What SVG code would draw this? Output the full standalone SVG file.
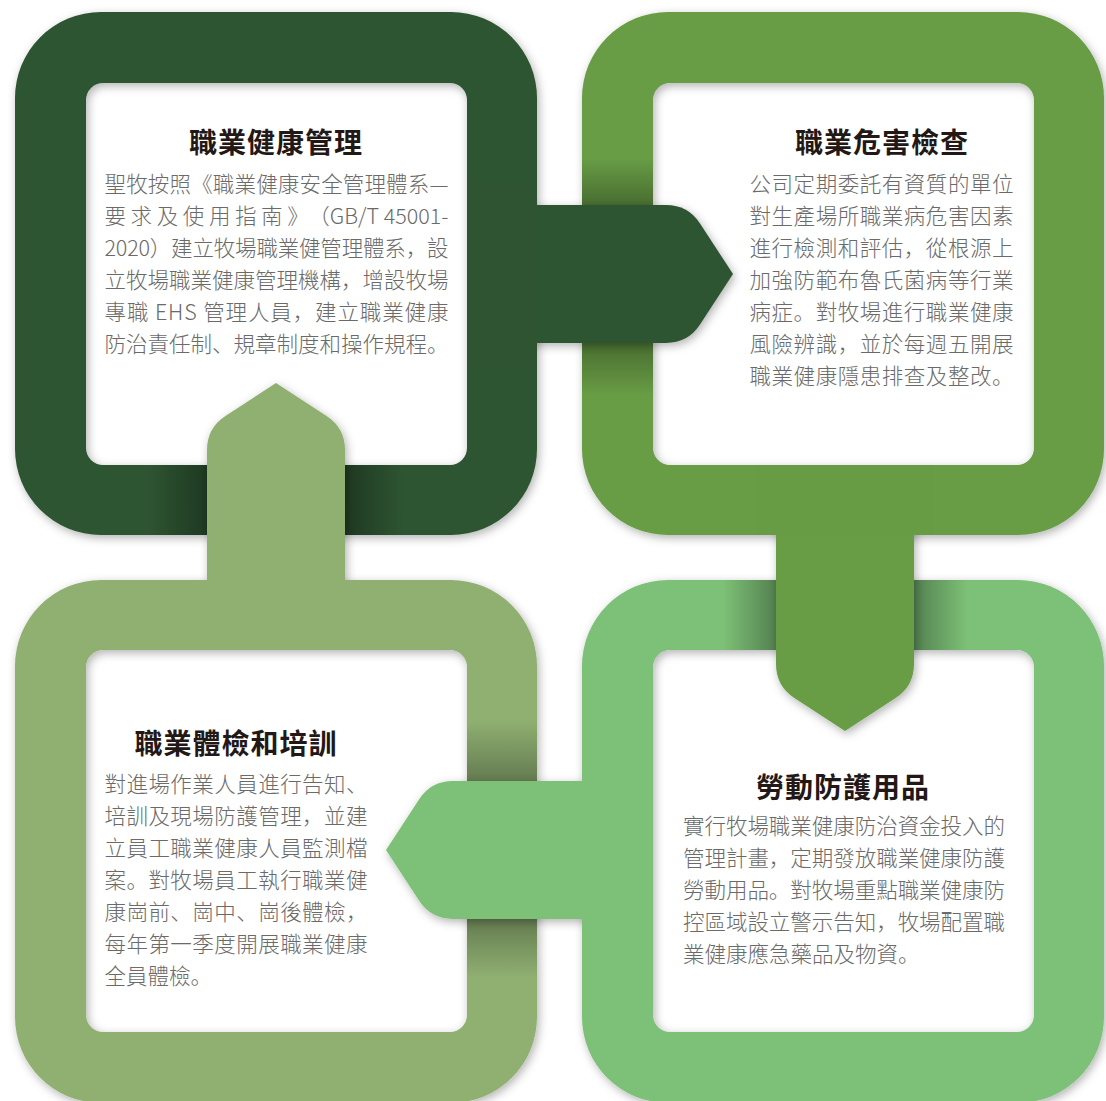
<svg xmlns="http://www.w3.org/2000/svg" width="1106" height="1101" viewBox="0 0 1106 1101">
  <defs>
    <style>
      .ring { fill-rule: evenodd; filter: url(#shadow); }
      .conn { filter: url(#shadow); }
      .ttl { font-family: "Noto Sans CJK SC", "Noto Sans CJK TC", sans-serif; font-size: 28px; font-weight: 700; fill: #231815; text-anchor: middle; letter-spacing: 1px; }
      .body { font-family: "Noto Sans CJK SC", "Noto Sans CJK TC", sans-serif; font-size: 21.5px; font-weight: 300; fill: #6a6a6a; }
      .c1 { fill: #2E5432; }
      .c2 { fill: #679C45; }
      .c3 { fill: #90B072; }
      .c4 { fill: #7DC077; }
    </style>
    <filter id="shadow" x="-10%" y="-10%" width="120%" height="120%">
      <feDropShadow dx="2" dy="3" stdDeviation="5" flood-color="#000" flood-opacity="0.3"/>
    </filter>
    <linearGradient id="toR" x1="0" y1="0" x2="1" y2="0">
      <stop offset="0" stop-color="#000" stop-opacity="0"/>
      <stop offset="1" stop-color="#000" stop-opacity="0.33"/>
    </linearGradient>
    <linearGradient id="toL" x1="1" y1="0" x2="0" y2="0">
      <stop offset="0" stop-color="#000" stop-opacity="0"/>
      <stop offset="1" stop-color="#000" stop-opacity="0.33"/>
    </linearGradient>
    <linearGradient id="toD" x1="0" y1="0" x2="0" y2="1">
      <stop offset="0" stop-color="#000" stop-opacity="0"/>
      <stop offset="1" stop-color="#000" stop-opacity="0.3"/>
    </linearGradient>
    <linearGradient id="toU" x1="0" y1="1" x2="0" y2="0">
      <stop offset="0" stop-color="#000" stop-opacity="0"/>
      <stop offset="1" stop-color="#000" stop-opacity="0.3"/>
    </linearGradient>
  </defs>

  <rect x="0" y="0" width="1106" height="1101" fill="#ffffff"/>

  <!-- Node 1: top-left -->
  <g id="node-health-management">
    <path class="ring c1" d="M101,12 H451 A86,86 0 0 1 537,98 V449 A86,86 0 0 1 451,535 H101 A86,86 0 0 1 15,449 V98 A86,86 0 0 1 101,12 Z M103,83 H450 A17,17 0 0 1 467,100 V448 A17,17 0 0 1 450,465 H103 A17,17 0 0 1 86,448 V100 A17,17 0 0 1 103,83 Z"/>
    <text class="ttl" x="276" y="153">職業健康管理</text>
    <text class="body" x="104.5" y="192" textLength="344" lengthAdjust="spacing">聖牧按照《職業健康安全管理體系—</text>
    <text class="body" x="104.5" y="224" letter-spacing="4.6">要求及使用指南》</text>
    <text class="body" x="448.5" y="224" text-anchor="end">（GB/T 45001-</text>
    <text class="body" x="104.5" y="256" textLength="344" lengthAdjust="spacing">2020）建立牧場職業健管理體系，設</text>
    <text class="body" x="104.5" y="288" textLength="344" lengthAdjust="spacing">立牧場職業健康管理機構，增設牧場</text>
    <text class="body" x="104.5" y="320" textLength="344" lengthAdjust="spacing">專職 EHS 管理人員，建立職業健康</text>
    <text class="body" x="104.5" y="352" textLength="344" lengthAdjust="spacing">防治責任制、規章制度和操作規程。</text>
  </g>

  <!-- Node 2: top-right -->
  <g id="node-hazard-inspection">
    <path class="ring c2" d="M668,12 H1018 A86,86 0 0 1 1104,98 V449 A86,86 0 0 1 1018,535 H668 A86,86 0 0 1 582,449 V98 A86,86 0 0 1 668,12 Z M670,83 H1017 A17,17 0 0 1 1034,100 V448 A17,17 0 0 1 1017,465 H670 A17,17 0 0 1 653,448 V100 A17,17 0 0 1 670,83 Z"/>
    <text class="ttl" x="882" y="153">職業危害檢查</text>
    <text class="body" x="749.5" y="192" textLength="264" lengthAdjust="spacing">公司定期委託有資質的單位</text>
    <text class="body" x="749.5" y="224" textLength="264" lengthAdjust="spacing">對生產場所職業病危害因素</text>
    <text class="body" x="749.5" y="256" textLength="264" lengthAdjust="spacing">進行檢測和評估，從根源上</text>
    <text class="body" x="749.5" y="288" textLength="264" lengthAdjust="spacing">加強防範布魯氏菌病等行業</text>
    <text class="body" x="749.5" y="320" textLength="264" lengthAdjust="spacing">病症。對牧場進行職業健康</text>
    <text class="body" x="749.5" y="352" textLength="264" lengthAdjust="spacing">風險辨識，並於每週五開展</text>
    <text class="body" x="749.5" y="384" textLength="264" lengthAdjust="spacing">職業健康隱患排查及整改。</text>
  </g>

  <!-- Node 3: bottom-left -->
  <g id="node-checkup-training">
    <path class="ring c3" d="M101,580 H451 A86,86 0 0 1 537,666 V1017 A86,86 0 0 1 451,1103 H101 A86,86 0 0 1 15,1017 V666 A86,86 0 0 1 101,580 Z M103,650 H450 A17,17 0 0 1 467,667 V1015 A17,17 0 0 1 450,1032 H103 A17,17 0 0 1 86,1015 V667 A17,17 0 0 1 103,650 Z"/>
    <text class="ttl" x="236" y="754">職業體檢和培訓</text>
    <text class="body" x="104.5" y="792" textLength="263" lengthAdjust="spacing">對進場作業人員進行告知、</text>
    <text class="body" x="104.5" y="824" textLength="263" lengthAdjust="spacing">培訓及現場防護管理，並建</text>
    <text class="body" x="104.5" y="856" textLength="263" lengthAdjust="spacing">立員工職業健康人員監測檔</text>
    <text class="body" x="104.5" y="888" textLength="263" lengthAdjust="spacing">案。對牧場員工執行職業健</text>
    <text class="body" x="104.5" y="920" textLength="263" lengthAdjust="spacing">康崗前、崗中、崗後體檢，</text>
    <text class="body" x="104.5" y="952" textLength="263" lengthAdjust="spacing">每年第一季度開展職業健康</text>
    <text class="body" x="104.5" y="984">全員體檢。</text>
  </g>

  <!-- Node 4: bottom-right -->
  <g id="node-protective-equipment">
    <path class="ring c4" d="M668,580 H1018 A86,86 0 0 1 1104,666 V1017 A86,86 0 0 1 1018,1103 H668 A86,86 0 0 1 582,1017 V666 A86,86 0 0 1 668,580 Z M670,650 H1017 A17,17 0 0 1 1034,667 V1015 A17,17 0 0 1 1017,1032 H670 A17,17 0 0 1 653,1015 V667 A17,17 0 0 1 670,650 Z"/>
    <text class="ttl" x="843" y="798">勞動防護用品</text>
    <text class="body" x="683" y="834" textLength="322" lengthAdjust="spacing">實行牧場職業健康防治資金投入的</text>
    <text class="body" x="683" y="866" textLength="322" lengthAdjust="spacing">管理計畫，定期發放職業健康防護</text>
    <text class="body" x="683" y="898" textLength="322" lengthAdjust="spacing">勞動用品。對牧場重點職業健康防</text>
    <text class="body" x="683" y="930" textLength="322" lengthAdjust="spacing">控區域設立警示告知，牧場配置職</text>
    <text class="body" x="683" y="962">業健康應急藥品及物資。</text>
  </g>

  <!-- shading on rings where connectors pass over -->
  <g id="ring-shading">
    <rect x="147" y="465" width="60" height="70" fill="url(#toR)"/>
    <rect x="345" y="465" width="60" height="70" fill="url(#toL)"/>
    <rect x="582" y="158" width="71" height="47" fill="url(#toD)"/>
    <rect x="582" y="343" width="71" height="52" fill="url(#toU)"/>
    <rect x="723" y="580" width="53" height="70" fill="url(#toR)"/>
    <rect x="914" y="580" width="53" height="70" fill="url(#toL)"/>
    <rect x="467" y="720" width="70" height="61" fill="url(#toD)"/>
    <rect x="467" y="919" width="70" height="59" fill="url(#toU)"/>
  </g>

  <!-- connectors -->
  <g id="connectors">
    <path id="conn-1-2" class="conn c1" d="M520,205 L666,205 Q688,205 700,223.4 L733,274 L700,324.6 Q688,343 666,343 L520,343 Z"/>
    <path id="conn-2-4" class="conn c2" d="M776,520 L914,520 L914,664 Q914,686 895.6,698 L845,731 L794.4,698 Q776,686 776,664 Z"/>
    <path id="conn-4-3" class="conn c4" d="M600,781 L453,781 Q431,781 419,799.4 L386,850 L419,900.6 Q431,919 453,919 L600,919 Z"/>
    <path id="conn-3-1" class="conn c3" d="M207,600 L207,450 Q207,428 225.4,416 L276,383 L326.6,416 Q345,428 345,450 L345,600 Z"/>
  </g>

  <!-- caps: source-ring band over connector bases -->
  <g id="ring-caps">
    <rect class="c1" x="467" y="185" width="70" height="180"/>
    <rect class="c2" x="756" y="465" width="178" height="70"/>
    <rect class="c4" x="582" y="761" width="71" height="178"/>
    <rect class="c3" x="187" y="580" width="178" height="70"/>
  </g>
</svg>
